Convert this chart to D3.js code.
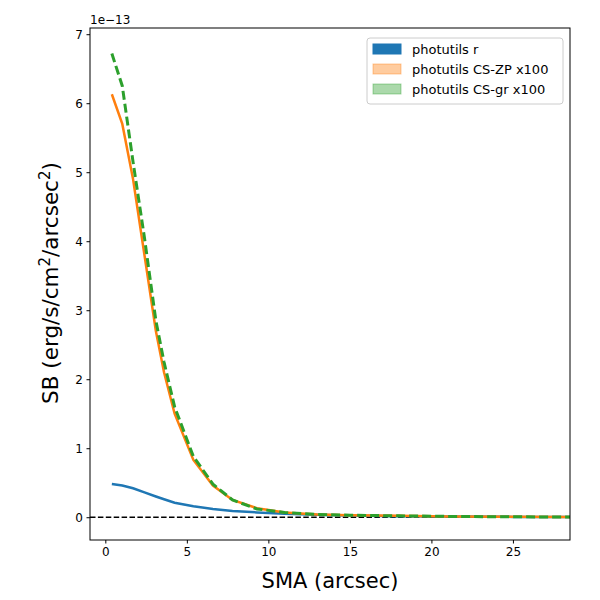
<!DOCTYPE html>
<html><head><meta charset="utf-8">
<script src="https://cdn.jsdelivr.net/npm/d3@7"></script>
<style>body{margin:0;background:#fff}text{font-family:"DejaVu Sans",sans-serif}</style>
</head><body>
<svg id="c" width="600" height="600"></svg>
<script>
const sma    = [0.4, 1.04, 1.7, 2.4, 3.1, 3.6, 4.25, 5.4, 6.6, 7.8, 9.3, 11, 13, 15, 18, 21, 25, 29];
const sbR    = [0.48, 0.46, 0.42, 0.36, 0.30, 0.26, 0.21, 0.16, 0.12, 0.09, 0.07, 0.05, 0.035, 0.025, 0.015, 0.01, 0.005, 0.003];
const sbZP   = [6.13, 5.70, 4.90, 3.80, 2.70, 2.10, 1.50, 0.83, 0.46, 0.25, 0.13, 0.07, 0.04, 0.03, 0.02, 0.012, 0.006, 0.003];
const sbGR   = [6.72, 6.25, 5.15, 4.05, 2.85, 2.25, 1.60, 0.88, 0.48, 0.25, 0.12, 0.07, 0.04, 0.03, 0.02, 0.012, 0.006, 0.003];
const xTicks = [0, 5, 10, 15, 20, 25];
const yTicks = [0, 1, 2, 3, 4, 5, 6, 7];

const svg = d3.select("#c");
const L = 90, R = 570, T = 28, B = 540;
const x = d3.scaleLinear([-0.94, 28.5], [L, R]);
const y = d3.scaleLinear([-0.33, 7.09], [B, T]);

const g = svg.append("g");
g.append("line").attr("x1", L).attr("x2", R).attr("y1", y(0)).attr("y2", y(0))
  .attr("stroke", "black").attr("stroke-width", 1.5).attr("stroke-dasharray", "5.5,2.4");

const line = d3.line().x((d, i) => x(sma[i])).y(d => y(d));
svg.append("clipPath").attr("id", "cp").append("rect")
  .attr("x", L).attr("y", T).attr("width", R - L).attr("height", B - T);
const series = [
  {v: sbR, c: "#1f77b4", dash: null},
  {v: sbZP, c: "#ff7f0e", dash: null},
  {v: sbGR, c: "#2ca02c", dash: "9,4"}
];
series.forEach(s => {
  g.append("path").attr("d", line(s.v)).attr("fill", "none").attr("clip-path", "url(#cp)")
    .attr("stroke", s.c).attr("stroke-width", s.dash ? 3 : 2.5).attr("stroke-dasharray", s.dash);
});

svg.append("g").attr("transform", `translate(0,${B})`)
  .call(d3.axisBottom(x).tickValues(xTicks).tickSize(3.5).tickPadding(3.5))
  .call(a => a.select(".domain").remove())
  .selectAll("text").attr("font-size", 12).attr("fill", "black");
svg.append("g").attr("transform", `translate(${L},0)`)
  .call(d3.axisLeft(y).tickValues(yTicks).tickSize(3.5).tickPadding(3.5))
  .call(a => a.select(".domain").remove())
  .selectAll("text").attr("font-size", 12).attr("fill", "black");
svg.selectAll(".tick line").attr("stroke", "black");
svg.append("rect").attr("x", L).attr("y", T).attr("width", R - L).attr("height", B - T)
  .attr("fill", "none").attr("stroke", "black").attr("stroke-width", 1);

svg.append("text").attr("x", L).attr("y", 24).attr("font-size", 12).text("1e\u221213");
svg.append("text").attr("x", (L + R) / 2).attr("y", 588).attr("text-anchor", "middle")
  .attr("font-size", 21).text("SMA (arcsec)");
const yl = svg.append("text").attr("transform", `translate(58,${(T + B) / 2 - 1}) rotate(-90)`)
  .attr("text-anchor", "middle").attr("font-size", 21.5);
yl.append("tspan").text("SB (erg/s/cm");
yl.append("tspan").attr("dy", -8).attr("font-size", 15).text("2");
yl.append("tspan").attr("dy", 8).text("/arcsec");
yl.append("tspan").attr("dy", -8).attr("font-size", 15).text("2");
yl.append("tspan").attr("dy", 8).text(")");

const labels = ["photutils r", "photutils CS-ZP x100", "photutils CS-gr x100"];
const lg = svg.append("g").attr("transform", "translate(367,38)");
lg.append("rect").attr("width", 196).attr("height", 66).attr("rx", 3)
  .attr("fill", "white").attr("fill-opacity", 0.8).attr("stroke", "#ccc");
labels.forEach((t, i) => {
  const yy = 11 + i * 20;
  lg.append("rect").attr("x", 6).attr("y", yy - 5).attr("width", 28).attr("height", 10)
    .attr("fill", series[i].c).attr("fill-opacity", i ? 0.4 : 1)
    .attr("stroke", series[i].c).attr("stroke-opacity", i ? 0.4 : 1);
  lg.append("text").attr("x", 45).attr("y", yy + 4.5).attr("font-size", 13).text(t);
});
</script>
</body></html>
